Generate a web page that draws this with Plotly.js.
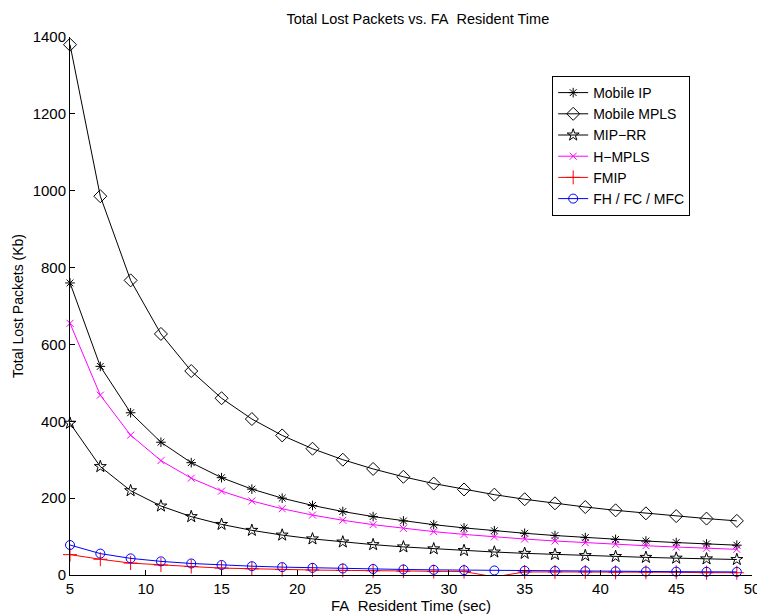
<!DOCTYPE html>
<html>
<head>
<meta charset="utf-8">
<script src="https://cdn.plot.ly/plotly-3.0.1.min.js"></script>
<style>html,body{margin:0;padding:0;background:#fff;} #chart{width:757px;height:615px;}</style>
</head>
<body>
<div id="chart"></div>
<script>
const residentTime = [5,7,9,11,13,15,17,19,21,23,25,27,29,31,33,35,37,39,41,43,45,47,49];
const mobileIP = [760,542.9,422.2,345.5,292.3,253.3,223.5,200,181,165.2,152,140.7,131,122.6,115.2,108.6,102.7,97.4,92.7,88.4,84.4,80.9,77.6];
const mobileMPLS = [1380,985.7,766.7,627.3,530.8,460,405.9,363.2,328.6,300,276,255.6,237.9,222.6,209.1,197.1,186.5,176.9,168.3,160.5,153.3,146.8,140.8];
const mipRR = [395,282.1,219.4,179.5,151.9,131.7,116.2,103.9,94,85.9,79,73.1,68.1,63.7,59.8,56.4,53.4,50.6,48.2,45.9,43.9,42,40.3];
const hMPLS = [655,467.9,363.9,297.7,251.9,218.3,192.6,172.4,156,142.4,131,121.3,112.9,105.6,99.2,93.6,88.5,84,79.9,76.2,72.8,69.7,66.8];
const fmip = [53,41,31,26,22,18,16,14,13,12,11,10,9,9,-5,8,8,8,7,7,7,6,6];
const fhfc = [78,55.7,43.3,35.5,30,26,22.9,20.5,18.6,17,15.6,14.4,13.4,12.6,11.8,11.1,10.5,10,9.5,9.1,8.7,8.3,8];
const xTicks = [5,10,15,20,25,30,35,40,45,50];
const yTicks = [0,200,400,600,800,1000,1200,1400];

function tr(name, y, color, symbol, size) {
  return {x: residentTime, y: y, name: name, type: 'scatter', mode: 'lines+markers', cliponaxis: false,
    line: {color: color, width: 1},
    marker: {symbol: symbol, size: size, color: color, line: {color: color, width: 1}}};
}
const data = [
  tr('Mobile IP', mobileIP, '#000000', 'asterisk-open', 8),
  tr('Mobile MPLS', mobileMPLS, '#000000', 'diamond-open', 10),
  tr('MIP\u2212RR', mipRR, '#000000', 'star-open', 9),
  tr('H\u2212MPLS', hMPLS, '#ff00ff', 'x-thin-open', 7),
  tr('FMIP', fmip, '#ff0000', 'cross-thin-open', 10),
  tr('FH / FC / MFC', fhfc, '#0000ff', 'circle-open', 9)
];
const font = {family: 'Liberation Sans, Arial, Helvetica, sans-serif', color: '#000', size: 15};
const layout = {
  width: 757, height: 615,
  margin: {l: 70, r: 5, t: 37, b: 40},
  paper_bgcolor: '#fff', plot_bgcolor: '#fff',
  font: font,
  showlegend: true,
  title: {text: 'Total Lost Packets vs. FA\u00a0 Resident Time', font: {size: 14.5, color: '#000', family: font.family}, x: 0.552, xanchor: 'center', y: 0.97, yanchor: 'middle'},
  xaxis: {range: [5, 50], tickvals: xTicks, ticktext: xTicks.map(String), ticks: 'inside', ticklen: 5, tickcolor: '#000',
    showline: true, linecolor: '#000', linewidth: 1, showgrid: false, zeroline: false, mirror: false, ticklabeloverflow: 'allow',
    tickfont: {size: 15}, title: {text: 'FA\u00a0 Resident Time (sec)', font: {size: 15}, standoff: 1}},
  yaxis: {range: [0, 1400], tickvals: yTicks, ticktext: yTicks.map(String), ticks: 'inside', ticklen: 5, tickcolor: '#000',
    showline: true, linecolor: '#000', linewidth: 1, showgrid: false, zeroline: false, mirror: false, ticklabeloverflow: 'allow',
    tickfont: {size: 15}, title: {text: 'Total Lost Packets (Kb)', font: {size: 14}, standoff: 5}},
  legend: {x: 0.707, y: 0.9275, xanchor: 'left', yanchor: 'top', bordercolor: '#000', borderwidth: 1, bgcolor: '#fff',
    font: {size: 14}, tracegroupgap: 0, itemwidth: 30}
};
Plotly.newPlot('chart', data, layout, {displayModeBar: false, staticPlot: true});
</script>
</body>
</html>
